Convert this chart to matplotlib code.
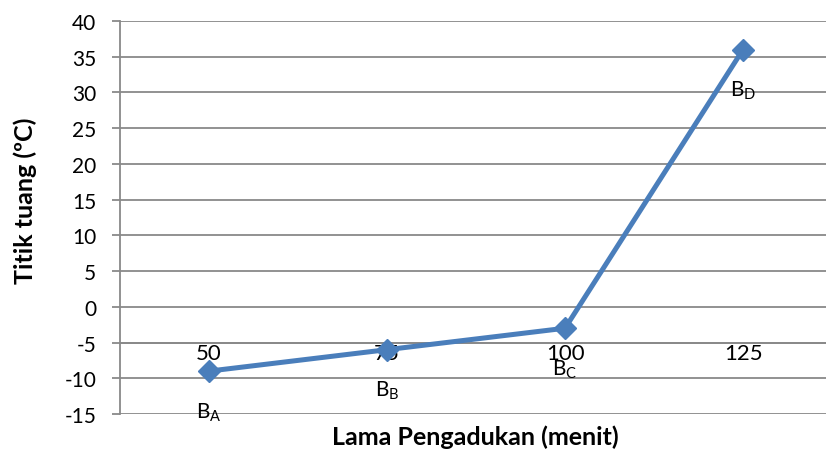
#!/usr/bin/env python3
"""Titik tuang vs lama pengadukan line chart."""
import matplotlib
matplotlib.use('Agg')
import matplotlib.pyplot as plt

plt.rcParams['font.family'] = ['Lato', 'DejaVu Sans']
plt.rcParams['axes.unicode_minus'] = False

durations = [50, 75, 100, 125]
pour_points = [-9, -6, -3, 36]
point_labels = ['B$_\\mathregular{A}$', 'B$_\\mathregular{B}$',
                'B$_\\mathregular{C}$', 'B$_\\mathregular{D}$']
y_ticks = list(range(-15, 41, 5))

line_color = '#4A7EBB'
grid_color = '#898989'

fig = plt.figure(figsize=(8.26, 4.52), dpi=100)
ax = fig.add_axes([0.1453, 0.0819, 0.862, 0.8695])

ax.plot(durations, pour_points, color=line_color, lw=3.6, marker='D',
        markersize=11, markerfacecolor=line_color, markeredgecolor=line_color,
        zorder=3)

for x, y, lab in zip(durations, pour_points, point_labels):
    ax.annotate(lab, (x, y), xytext=(0, -29), textcoords='offset points',
                ha='center', va='center', fontsize=15, zorder=4)

ax.set_xlim(37.5, 137.5)
ax.set_ylim(-15, 40)
ax.set_yticks(y_ticks)
ax.set_xticks(durations)
ax.set_xticklabels([str(d) for d in durations])

ax.yaxis.grid(True, color=grid_color, lw=1.3)
ax.set_axisbelow(True)

for s in ['top', 'right']:
    ax.spines[s].set_visible(False)
ax.spines['left'].set_color(grid_color)
ax.spines['left'].set_linewidth(1.3)
ax.spines['bottom'].set_position(('data', -5))
ax.spines['bottom'].set_color(grid_color)
ax.spines['bottom'].set_linewidth(1.3)

ax.tick_params(axis='y', length=6, width=1.3, color=grid_color, pad=11,
               labelsize=15)
ax.tick_params(axis='x', length=0, pad=0, labelsize=16)

fig.text(0.575, 0.033, 'Lama Pengadukan (menit)', ha='center', va='center',
         fontsize=18, fontweight='bold')
fig.text(0.030, 0.555, 'Titik tuang (ºC)', ha='center', va='center',
         rotation=90, fontsize=18, fontweight='bold')

fig.savefig('out.png', dpi=100)
